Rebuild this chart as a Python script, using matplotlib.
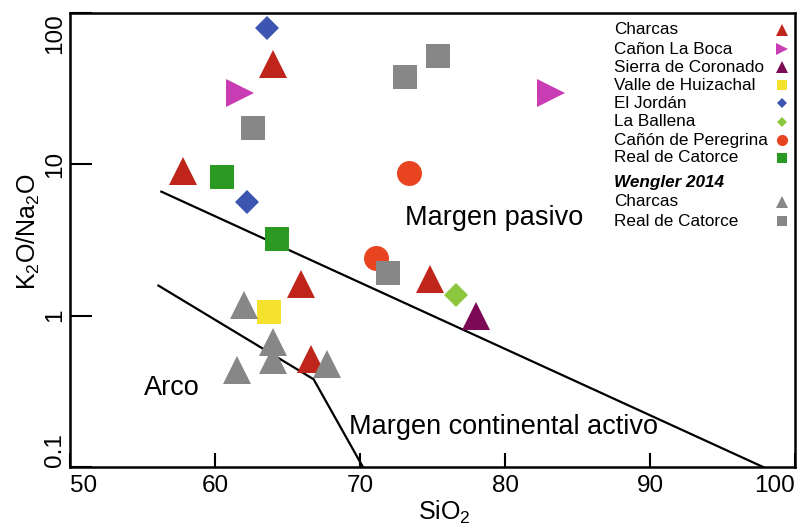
import matplotlib
matplotlib.use("Agg")
import matplotlib.pyplot as plt

plt.rcParams['font.family'] = ['Liberation Sans', 'DejaVu Sans']
plt.rcParams['mathtext.fontset'] = 'custom'
plt.rcParams['mathtext.rm'] = 'Liberation Sans'
plt.rcParams['mathtext.it'] = 'Liberation Sans:italic'
plt.rcParams['mathtext.bf'] = 'Liberation Sans:bold'

# ---- data ----
charcas_x = [64.0, 57.8, 65.9, 66.6, 74.8]
charcas_y = [45.7, 9.1, 1.61, 0.52, 1.74]
boca_x = [61.7, 83.2]
boca_y = [29.7, 29.7]
coronado_x = [78.0]
coronado_y = [0.99]
huizachal_x = [63.7]
huizachal_y = [1.05]
jordan_x = [63.6, 62.2]
jordan_y = [80.0, 5.6]
ballena_x = [76.6]
ballena_y = [1.36]
peregrina_x = [73.4, 71.1]
peregrina_y = [8.8, 2.4]
catorce_x = [60.5, 64.3]
catorce_y = [8.3, 3.2]
w_charcas_x = [62.0, 64.0, 64.0, 61.5, 67.7]
w_charcas_y = [1.18, 0.67, 0.51, 0.44, 0.48]
w_catorce_x = [62.6, 73.1, 75.4, 71.9]
w_catorce_y = [17.4, 37.6, 51.9, 1.9]

upper_line_x = [56.3, 97.8]
upper_line_y = [6.6, 0.1]
lower_line_x = [56.1, 66.8, 70.2]
lower_line_y = [1.58, 0.38, 0.1]

xticks = [50, 60, 70, 80, 90, 100]
xticklabels = ['50', '60', '70', '80', '90', '100']
yticks = [0.1, 1, 10, 100]
yticklabels = ['0.1', '1', '10', '100']

legend_names = ['Charcas', 'Cañon La Boca', 'Sierra de Coronado', 'Valle de Huizachal',
                'El Jordán', 'La Ballena', 'Cañón de Peregrina', 'Real de Catorce']
wengler_names = ['Charcas', 'Real de Catorce']

# ---- styles ----
c_red = '#C0251C'
c_mag = '#C83CB4'
c_pur = '#7A0A55'
c_yel = '#F5E22E'
c_blu = '#3C55B0'
c_lgr = '#8DC63F'
c_ora = '#E84420'
c_grn = '#2A9A22'
c_gry = '#878787'

W, H = 798, 529
fig = plt.figure(figsize=(W / 100, H / 100), dpi=100)
L, R, B, T = 70, 795, 467, 13
ax = fig.add_axes([L / W, 1 - B / H, (R - L) / W, (B - T) / H])
ax.set_yscale('log')
ax.set_xlim(50, 100)
ax.set_ylim(0.1, 100)

ax.plot(upper_line_x, upper_line_y, color='black', lw=1.6, zorder=2)
ax.plot(lower_line_x, lower_line_y, color='black', lw=1.6, zorder=2)

series = [
    (charcas_x, charcas_y, '^', c_red, 19.5),
    (boca_x, boca_y, '>', c_mag, 19.5),
    (coronado_x, coronado_y, '^', c_pur, 19.5),
    (huizachal_x, huizachal_y, 's', c_yel, 17.3),
    (jordan_x, jordan_y, 'D', c_blu, 12.2),
    (ballena_x, ballena_y, 'D', c_lgr, 12.2),
    (peregrina_x, peregrina_y, 'o', c_ora, 18),
    (catorce_x, catorce_y, 's', c_grn, 17.3),
    (w_charcas_x, w_charcas_y, '^', c_gry, 19.5),
    (w_catorce_x, w_catorce_y, 's', c_gry, 17.3),
]
for xs, ys, m, c, ms in series:
    ax.plot(xs, ys, linestyle='none', marker=m, color=c, markersize=ms,
            markeredgewidth=0, zorder=3)

# axes styling
for s in ax.spines.values():
    s.set_linewidth(1.8)
ax.minorticks_off()
ax.set_xticks(xticks)
ax.set_xticklabels(xticklabels, fontsize=17.5)
ax.set_yticks(yticks)
ax.set_yticklabels(yticklabels, fontsize=17.5, rotation=90)
ax.tick_params(axis='x', direction='in', length=10, width=1.5, pad=6)
ax.tick_params(axis='y', direction='in', length=16, width=1.5, pad=3)
xl = ax.get_xticklabels()
xl[0].set_ha('left')
xl[-1].set_ha('right')
yl = ax.get_yticklabels()
for t in yl:
    t.set_va('center')
yl[0].set_va('bottom')
yl[-1].set_va('top')

ax.set_xlabel('SiO$_2$', fontsize=18)
ax.set_ylabel('K$_2$O/Na$_2$O', fontsize=18)
ax.xaxis.set_label_coords((444 - L) / (R - L), -(499 - B) / (B - T))
ax.yaxis.set_label_coords(-(L - 42) / (R - L), (B - 232) / (B - T))

# region labels
def px(xp, yp):
    return ((xp - L) / (R - L), (B - yp) / (B - T))

ax.text(*px(405, 218), 'Margen pasivo', transform=ax.transAxes, fontsize=19.5,
        ha='left', va='center')
ax.text(*px(144, 388), 'Arco', transform=ax.transAxes, fontsize=19.5,
        ha='left', va='center')
ax.text(*px(349, 427), 'Margen continental activo', transform=ax.transAxes,
        fontsize=19.5, ha='left', va='center')

# legend
leg_fs = 12.3
leg_y = [30, 49, 67, 85, 103, 122, 140, 158]
leg_markers = [('^', c_red, 8.5), ('>', c_mag, 8.5), ('^', c_pur, 8.5), ('s', c_yel, 7.5),
               ('D', c_blu, 5.5), ('D', c_lgr, 5.5), ('o', c_ora, 8), ('s', c_grn, 7.5)]
for name, yy, (m, c, ms) in zip(legend_names, leg_y, leg_markers):
    ax.text(*px(614, yy), name, transform=ax.transAxes, fontsize=leg_fs,
            ha='left', va='center')
    ax.plot(*px(782, yy), marker=m, color=c, markersize=ms, markeredgewidth=0,
            transform=ax.transAxes, clip_on=False, linestyle='none')
ax.text(*px(614, 182), 'Wengler 2014', transform=ax.transAxes, fontsize=leg_fs,
        ha='left', va='center', fontweight='bold', fontstyle='italic')
w_y = [202, 221]
w_markers = [('^', c_gry, 8.5), ('s', c_gry, 7.5)]
for name, yy, (m, c, ms) in zip(wengler_names, w_y, w_markers):
    ax.text(*px(614, yy), name, transform=ax.transAxes, fontsize=leg_fs,
            ha='left', va='center')
    ax.plot(*px(782, yy), marker=m, color=c, markersize=ms, markeredgewidth=0,
            transform=ax.transAxes, clip_on=False, linestyle='none')

fig.savefig('out.png', dpi=100)
